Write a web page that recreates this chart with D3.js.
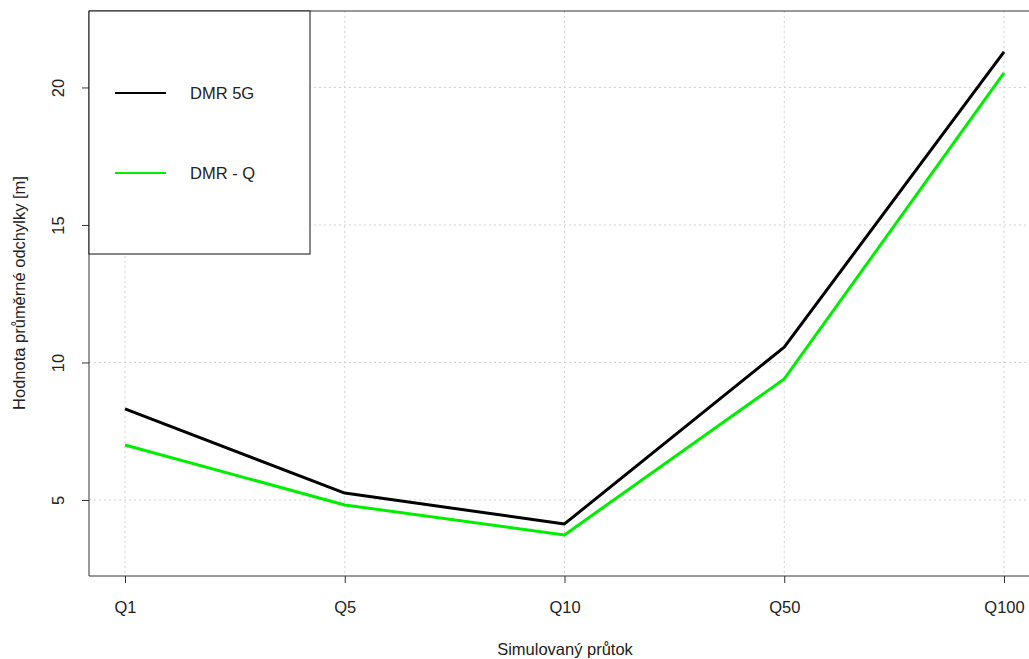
<!DOCTYPE html>
<html><head><meta charset="utf-8">
<script src="https://cdn.jsdelivr.net/npm/d3@7"></script>
<style>body{margin:0;background:#fff}svg{display:block}text{font-family:"Liberation Sans",Arial,sans-serif;fill:#222}</style>
</head><body>
<svg id="c" width="1029" height="659"></svg>
<script>
const categories = ["Q1","Q5","Q10","Q50","Q100"];
const dmr5g = [8.31, 5.25, 4.13, 10.56, 21.29];
const dmrQ = [7.0, 4.82, 3.73, 9.4, 20.53];
const yTicks = [5, 10, 15, 20];
const seriesNames = ["DMR 5G", "DMR - Q"];
const seriesColors = ["#000000", "#00ee00"];

const FS = 16.5;
const svg = d3.select("#c");
const L = 89, R = 1029, T = 11, B = 576;
const x = d3.scalePoint().domain(categories).range([125, 1004]);
const y = d3.scaleLinear().domain([2.236, 22.78]).range([B, T]);

// grid
const g = svg.append("g");
g.selectAll(".gx").data(categories).enter().append("line")
  .attr("x1", d => x(d)).attr("x2", d => x(d)).attr("y1", T).attr("y2", B)
  .attr("stroke", "#d3d3d3").attr("stroke-dasharray", "2,3");
g.selectAll(".gy").data(yTicks).enter().append("line")
  .attr("x1", L).attr("x2", R).attr("y1", d => y(d)).attr("y2", d => y(d))
  .attr("stroke", "#d3d3d3").attr("stroke-dasharray", "2,3");

// lines
const series = [dmr5g, dmrQ];
const line = d3.line().x((d, i) => x(categories[i])).y(d => y(d));
series.forEach((s, k) => {
  svg.append("path").datum(s).attr("d", line).attr("fill", "none")
    .attr("stroke", seriesColors[k]).attr("stroke-width", 3).attr("stroke-linejoin", "round");
});

// frame
svg.append("path").attr("d", `M${R},${T}H${L}V${B}H${R}`).attr("fill", "none").attr("stroke", "#333").attr("stroke-width", 1);

// axes
const xa = svg.append("g").attr("transform", `translate(0,${B})`)
  .call(d3.axisBottom(x).tickSize(7));
xa.select(".domain").remove();
xa.selectAll("line").attr("stroke", "#333");
xa.selectAll("text").attr("font-size", FS).style("fill", "#222").attr("y", 37).attr("dy", null);

const ya = svg.append("g").attr("transform", `translate(${L},0)`)
  .call(d3.axisLeft(y).tickValues(yTicks).tickSize(7).tickFormat(d3.format("d")));
ya.select(".domain").remove();
ya.selectAll("line").attr("stroke", "#333");
ya.selectAll("text").attr("font-size", FS).style("fill", "#222")
  .attr("text-anchor", "middle").attr("x", null)
  .attr("transform", "translate(-31,0) rotate(-90)").attr("dy", "0.35em");

// titles
svg.append("text").attr("x", 565).attr("y", 655).attr("text-anchor", "middle").attr("font-size", FS).text("Simulovaný průtok");
svg.append("text").attr("transform", "translate(25,293) rotate(-90)").attr("text-anchor", "middle").attr("font-size", FS).text("Hodnota průměrné odchylky [m]");

// legend
svg.append("rect").attr("x", L).attr("y", T).attr("width", 221).attr("height", 243)
  .attr("fill", "#fff").attr("stroke", "#111").attr("stroke-width", 1);
const ly = [93, 173];
seriesNames.forEach((n, k) => {
  svg.append("line").attr("x1", 115).attr("x2", 166).attr("y1", ly[k]).attr("y2", ly[k])
    .attr("stroke", seriesColors[k]).attr("stroke-width", 2);
  svg.append("text").attr("x", 190).attr("y", ly[k] + 6).attr("font-size", FS).text(n);
});
</script>
</body></html>
